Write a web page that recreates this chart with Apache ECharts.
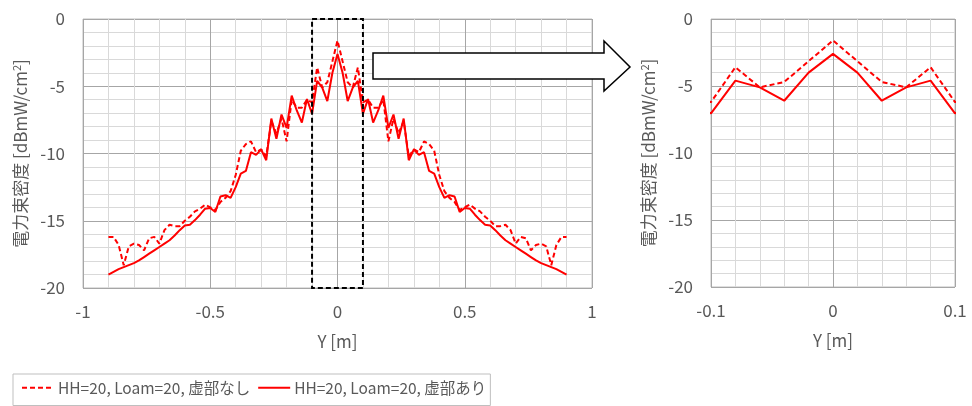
<!DOCTYPE html>
<html>
<head>
<meta charset="utf-8">
<script src="https://cdn.jsdelivr.net/npm/echarts@6/dist/echarts.min.js"></script>
<style>
html,body{margin:0;padding:0;background:#fff;}
#chart{width:972px;height:406px;}
</style>
</head>
<body>
<div id="chart"></div>
<script>
// Y position [m]
const yPos = [
 -0.90,-0.88,-0.86,-0.84,-0.82,-0.80,-0.78,-0.76,-0.74,-0.72,
 -0.70,-0.68,-0.66,-0.64,-0.62,-0.60,-0.58,-0.56,-0.54,-0.52,
 -0.50,-0.48,-0.46,-0.44,-0.42,-0.40,-0.38,-0.36,-0.34,-0.32,
 -0.30,-0.28,-0.26,-0.24,-0.22,-0.20,-0.18,-0.16,-0.14,-0.12,
 -0.10,-0.08,-0.06,-0.04,-0.02, 0.00, 0.02, 0.04, 0.06, 0.08,
  0.10, 0.12, 0.14, 0.16, 0.18, 0.20, 0.22, 0.24, 0.26, 0.28,
  0.30, 0.32, 0.34, 0.36, 0.38, 0.40, 0.42, 0.44, 0.46, 0.48,
  0.50, 0.52, 0.54, 0.56, 0.58, 0.60, 0.62, 0.64, 0.66, 0.68,
  0.70, 0.72, 0.74, 0.76, 0.78, 0.80, 0.82, 0.84, 0.86, 0.88,
  0.90
];
// HH=20, Loam=20, 虚部なし (dashed)
const noImag = [
 -16.2,-16.2,-16.8,-18.3,-16.9,-16.7,-16.8,-17.2,-16.3,-16.2,
 -16.7,-15.7,-15.3,-15.4,-15.4,-15.0,-14.7,-14.3,-14.1,-13.8,
 -14.0,-14.2,-13.6,-13.3,-12.8,-11.6,-9.8,-9.3,-9.1,-9.9,
 -9.7,-10.2,-7.6,-8.5,-7.4,-9.1,-6.0,-6.6,-6.6,-6.0,
 -6.2,-3.6,-5.1,-4.7,-3.15,-1.6,-3.15,-4.7,-5.1,-3.6,
 -6.2,-6.0,-6.6,-6.6,-6.0,-9.1,-7.4,-8.5,-7.6,-10.2,
 -9.7,-9.9,-9.1,-9.3,-9.8,-11.6,-12.8,-13.3,-13.6,-14.2,
 -14.0,-13.8,-14.1,-14.3,-14.7,-15.0,-15.4,-15.4,-15.3,-15.7,
 -16.7,-16.2,-16.3,-17.2,-16.8,-16.7,-16.9,-18.3,-16.8,-16.2,
 -16.2
];
// HH=20, Loam=20, 虚部あり (solid)
const withImag = [
 -19.0,-18.8,-18.6,-18.45,-18.3,-18.15,-17.95,-17.7,-17.45,-17.2,
 -16.95,-16.7,-16.45,-16.1,-15.7,-15.35,-15.3,-14.95,-14.55,-14.1,
 -14.05,-14.35,-13.2,-13.1,-13.3,-12.5,-11.5,-11.3,-9.9,-10.1,
 -9.7,-10.5,-7.4,-8.9,-7.1,-8.1,-5.7,-6.8,-7.7,-5.95,
 -7.05,-4.6,-5.1,-6.1,-4.0,-2.6,-4.0,-6.1,-5.1,-4.6,
 -7.05,-5.95,-7.7,-6.8,-5.7,-8.1,-7.1,-8.9,-7.4,-10.5,
 -9.7,-10.1,-9.9,-11.3,-11.5,-12.5,-13.3,-13.1,-13.2,-14.35,
 -14.05,-14.1,-14.55,-14.95,-15.3,-15.35,-15.7,-16.1,-16.45,-16.7,
 -16.95,-17.2,-17.45,-17.7,-17.95,-18.15,-18.3,-18.45,-18.6,-18.8,
 -19.0
];
const seriesNames = ['HH=20, Loam=20, 虚部なし', 'HH=20, Loam=20, 虚部あり'];
const zoomBox = [[-0.1, 0], [0.1, -20]];

const TXT = '#595959';
const FONT = '"Noto Sans CJK JP", "Noto Sans", sans-serif';
const MAJ = '#a6a6a6', MIN = '#d9d9d9';

function pairs(vals){ return yPos.map((x,i)=>[x, vals[i]]); }

function xAxisCfg(gridIndex, min, max, interval){
  return {
    type:'value', gridIndex, min, max, interval,
    name:'Y [m]', nameLocation:'middle', nameGap:45,
    nameTextStyle:{color:TXT, fontSize:17, fontFamily:FONT},
    axisLine:{show:false}, axisTick:{show:false},
    axisLabel:{color:TXT, fontSize:17, fontFamily:FONT, margin:15,
      formatter:v=>String(Math.round(v*1000)/1000)},
    splitLine:{show:true, lineStyle:{color:MAJ, width:1}},
    minorTick:{show:false, splitNumber:5},
    minorSplitLine:{show:true, lineStyle:{color:MIN, width:1}}
  };
}
function yAxisCfg(gridIndex){
  return {
    type:'value', gridIndex, min:-20, max:0, interval:5,
    name:'電力束密度 [dBmW/cm{sup|2}]', nameLocation:'middle', nameGap:53,
    nameRotate:90,
    nameTextStyle:{color:TXT, fontSize:17, fontFamily:FONT,
      rich:{sup:{fontSize:11, color:TXT, fontFamily:FONT, verticalAlign:'top', padding:[0,0,8,0]}}},
    axisLine:{show:false}, axisTick:{show:false},
    axisLabel:{color:TXT, fontSize:17, fontFamily:FONT, margin:18},
    splitLine:{show:true, lineStyle:{color:MAJ, width:1}},
    minorTick:{show:false, splitNumber:5},
    minorSplitLine:{show:true, lineStyle:{color:MIN, width:1}}
  };
}
function lineSeries(name, vals, dashed, xi){
  return {
    name, type:'line', xAxisIndex:xi, yAxisIndex:xi, data:pairs(vals),
    symbol:'none', showSymbol:false, clip:true, animation:false,
    lineStyle:{color:'#ff0000', width:2, type: dashed ? [5,3] : 'solid'},
    itemStyle:{color:'#ff0000'}
  };
}

const chart = echarts.init(document.getElementById('chart'));
const leftSolid = lineSeries(seriesNames[1], withImag, false, 0);
leftSolid.markArea = {
  silent:true, z:10,
  itemStyle:{color:'rgba(0,0,0,0)', borderColor:'#000', borderWidth:2, borderType:[5,3]},
  data:[[{coord:zoomBox[0]},{coord:zoomBox[1]}]]
};
chart.setOption({
  backgroundColor:'#fff',
  animation:false,
  textStyle:{fontFamily:FONT},
  grid:[
    {left:83, right:380, top:19, bottom:118, show:true, borderColor:'#bfbfbf', borderWidth:1, containLabel:false},
    {left:711, right:17, top:19, bottom:119, show:true, borderColor:'#bfbfbf', borderWidth:1, containLabel:false}
  ],
  xAxis:[xAxisCfg(0,-1,1,0.5), xAxisCfg(1,-0.1,0.1,0.1)],
  yAxis:[yAxisCfg(0), yAxisCfg(1)],
  legend:{
    left:13, top:374, orient:'horizontal',
    data:[seriesNames[0], seriesNames[1]],
    borderColor:'#bfbfbf', borderWidth:1, padding:[6,4,10,8],
    itemWidth:32, itemHeight:10, itemGap:7,
    itemStyle:{opacity:0},
    textStyle:{color:TXT, fontSize:15.5, fontFamily:FONT, padding:[0,0,0,-1]}
  },
  series:[
    lineSeries(seriesNames[0], noImag, true, 0),
    leftSolid,
    lineSeries(seriesNames[0], noImag, true, 1),
    lineSeries(seriesNames[1], withImag, false, 1)
  ],
  graphic:[{
    type:'polygon', z:100,
    shape:{points:[[373,53],[604,53],[604,41],[630,67],[604,91],[604,79],[373,79]]},
    style:{fill:'#fff', stroke:'#000', lineWidth:1.5}
  }]
});
</script>
</body>
</html>
